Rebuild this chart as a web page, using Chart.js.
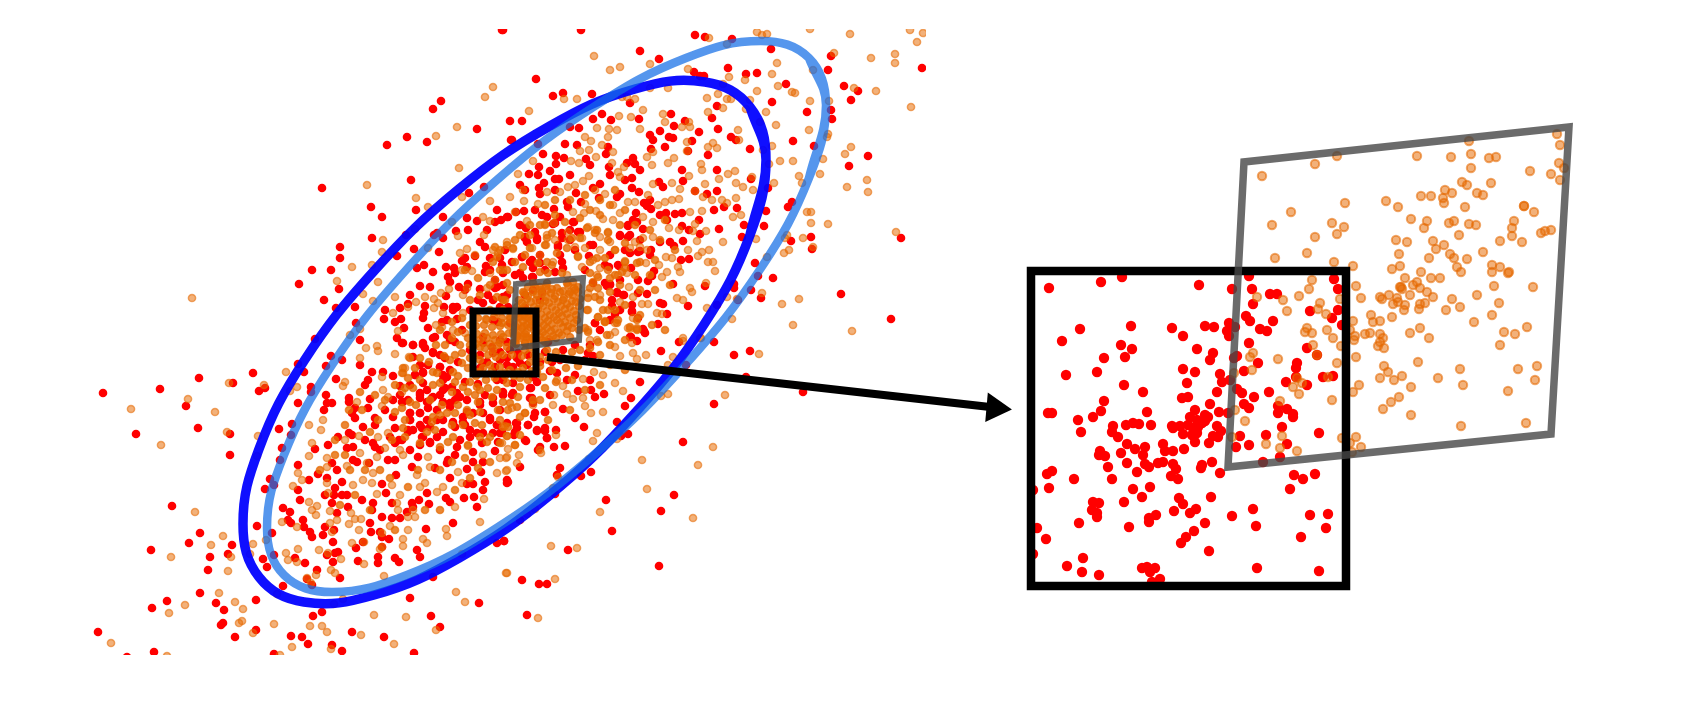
<!DOCTYPE html>
<html>
<head>
<meta charset="utf-8">
<title>Scatter with zoomed views</title>
<script src="https://cdn.jsdelivr.net/npm/chart.js@4/dist/chart.umd.min.js"></script>
<style>
    html, body { margin: 0; padding: 0; background: #fff; overflow: hidden; }
    canvas { display: block; }
</style>
</head>
<body>
<canvas id="scatter" width="1702" height="704"></canvas>
<script>
// values, outer part of the cloud
const redMain = [
[502,30],[441,101],[433,109],[407,137],[387,145],[427,142],[477,129],[510,121],[511,140],[411,180],[322,188],[371,207],[382,217],[416,210],[484,187],[469,193],[443,217],[467,218],[477,221],[497,210],[495,222],[508,217],[487,230],[468,230],[456,231],[372,238],[406,235],[434,235],[437,233],[443,238],[340,247],[414,249],[439,252],[340,258],[480,242],[485,247],[397,256],[312,270],[331,270],[417,268],[424,265],[433,272],[465,258],[462,261],[475,256],[446,267],[454,268],[455,273],[448,277],[467,267],[486,266],[485,272],[490,258],[299,284],[339,289],[420,286],[430,287],[459,287],[468,284],[480,289],[450,282],[324,300],[355,307],[336,308],[410,295],[446,296],[453,307],[457,307],[444,307],[425,306],[408,304],[400,308],[385,310],[424,313],[423,318],[384,319],[395,322],[401,319],[447,320],[457,319],[356,323],[404,328],[428,328],[435,337],[447,335],[453,310],[397,338],[315,339],[360,340],[503,273],[497,287],[503,297],[483,303],[510,310],
[503,30],[581,30],[695,35],[705,37],[732,39],[640,51],[771,49],[831,56],[659,59],[536,79],[828,70],[922,68],[694,72],[700,76],[704,76],[728,68],[746,74],[757,73],[786,84],[553,96],[563,93],[592,94],[844,86],[858,91],[772,102],[851,100],[630,103],[717,106],[807,112],[831,110],[522,121],[602,114],[593,119],[611,120],[639,119],[671,114],[685,121],[712,118],[832,119],[579,128],[674,126],[570,127],[718,129],[699,132],[660,131],[650,135],[653,140],[512,140],[538,144],[669,137],[673,138],[692,141],[731,137],[736,140],[793,141],[565,144],[577,145],[608,147],[651,149],[665,147],[750,149],[814,146],[543,154],[688,151],[556,156],[564,158],[586,159],[606,154],[708,155],[633,158],[868,156],[556,164],[539,167],[635,164],[609,167],[627,163],[849,166],[550,171],[529,174],[538,175],[682,170],[717,170],[632,178],[555,179],[559,179],[544,183],[520,185],[659,182],[663,187],[600,184],[683,181],[751,179],[539,188],[632,188],[639,192],[593,188],[717,191],[768,188],[695,191],[525,190],[576,193],[707,194],[620,194],[599,198],[617,197],[788,207],[792,202],[581,202],[567,202],[540,194],[568,207],[644,203],[647,206],[651,209],[714,210],[724,207],[737,208],[766,211],[554,209],[524,211],[516,212],[666,213],[636,213],[675,214],[682,213],[542,215],[547,217],[560,217],[574,222],[633,220],[667,220],[699,220],[507,217],[501,220],[628,226],[682,226],[643,229],[764,226],[744,225],[719,229],[689,230],[526,228],[553,224],[700,234],[742,237],[811,237],[791,241],[901,238],[580,232],[562,238],[525,238],[537,238],[593,245],[620,236],[628,237],[670,242],[674,246],[683,241],[660,242],[651,250],[812,249],[640,251],[558,247],[522,257],[589,256],[681,260],[689,259],[755,263],[540,263],[532,260],[619,266],[609,267],[631,268],[654,271],[520,273],[652,276],[533,277],[773,278],[758,276],[638,280],[648,281],[673,284],[734,284],[705,286],[610,284],[607,286],[734,288],[617,292],[624,295],[638,293],[647,294],[841,294],[751,290],[761,298],[738,300],[660,303],[663,304],[688,306],[612,306],[717,305],[615,314],[632,311],[667,314],[891,319],[595,323],[658,324],[643,329],[645,333],
[661,351],[644,331],[637,341],[631,337],[679,342],[714,342],[734,355],[750,351],[588,353],[593,356],[686,365],[557,373],[550,371],[567,380],[590,380],[640,382],[578,391],[591,390],[604,394],[595,397],[631,398],[625,406],[803,392],[746,377],[714,404],[531,388],[537,382],[513,393],[530,398],[533,403],[545,412],[563,409],[534,417],[617,422],[575,418],[516,423],[517,428],[528,425],[584,427],[537,431],[545,431],[556,430],[514,435],[547,438],[526,441],[621,436],[628,434],[554,447],[565,446],[538,450],[683,442],[520,467],[560,468],[591,472],[581,476],[507,480],[507,483],[557,475],[555,494],[674,495],[606,500],[661,511],[612,531],[520,520],[504,541],[568,550],[659,566],[522,580],[539,584],[547,584],[527,615],[500,433],[502,432],
[103,393],[160,389],[199,378],[253,373],[233,383],[186,406],[259,391],[265,388],[298,364],[326,366],[304,372],[331,356],[342,360],[360,365],[336,379],[311,387],[311,392],[298,403],[326,395],[332,403],[327,403],[324,410],[355,418],[349,398],[349,402],[355,408],[352,413],[370,399],[368,408],[375,418],[363,427],[368,380],[365,385],[372,372],[383,372],[393,376],[400,386],[393,400],[402,402],[408,400],[393,417],[410,413],[410,420],[415,375],[413,345],[423,345],[402,343],[433,352],[423,373],[440,367],[445,358],[447,377],[455,342],[420,395],[427,402],[433,397],[443,390],[457,393],[420,413],[437,420],[450,403],[467,412],[480,405],[443,380],[493,398],[503,395],[503,380],[490,420],[463,422],[497,425],[477,433],[493,433],[507,423],[422,428],[413,430],[395,428],[390,437],[399,440],[395,443],[422,437],[430,443],[420,445],[408,430],[457,447],[473,452],[455,455],[448,460],[473,462],[483,462],[447,463],[467,469],[481,472],[495,451],[435,468],[418,457],[388,460],[412,467],[373,443],[375,447],[353,447],[347,448],[328,445],[315,449],[338,437],[352,435],[349,433],[353,460],[357,462],[369,463],[332,463],[337,470],[318,474],[327,478],[309,480],[298,465],[342,482],[396,475],[382,484],[450,478],[467,484],[473,484],[508,482],[485,482],[483,490],[474,497],[464,498],[446,498],[450,502],[427,493],[429,504],[419,500],[412,503],[413,507],[407,512],[392,503],[386,493],[373,503],[372,510],[382,517],[392,518],[400,518],[362,500],[348,507],[342,495],[335,488],[334,495],[347,495],[332,503],[325,495],[477,507],[370,523],[371,532],[380,532],[382,537],[389,539],[426,529],[453,523],[337,513],[300,500],[283,508],[290,512],[288,520],[291,523],[303,520],[304,527],[310,532],[312,537],[325,527],[334,530],[323,535],[333,542],[298,490],[265,489],[270,479],[274,485],[280,460],[282,448],[279,429],[292,424],[291,435],[230,434],[198,428],[136,434],[230,455],[172,506],[200,533],[189,543],[151,550],[257,526],[272,533],[232,545],[210,557],[228,554],[263,559],[274,555],[267,567],[208,570],[295,558],[305,563],[317,570],[327,555],[338,552],[335,553],[333,562],[358,561],[356,548],[363,542],[378,557],[378,563],[395,558],[399,562],[420,557],[417,550],[382,547],[340,578],[307,579],[312,585],[283,586],[433,577],[497,543],[504,541],[200,593],[167,601],[152,608],[216,603],[224,610],[256,600],[410,598],[479,603],[322,612],[313,616],[431,616],[440,627],[223,623],[221,625],[98,632],[256,630],[235,637],[291,636],[302,637],[352,632],[384,637],[308,644],[332,645],[342,651],[154,652],[274,654],[414,653],[127,657]
];

const orangeMain = [
[493,87],[485,97],[457,127],[436,136],[459,168],[367,185],[416,198],[428,207],[462,197],[490,201],[483,217],[490,221],[452,222],[415,229],[458,236],[484,235],[383,240],[382,252],[467,249],[460,253],[475,255],[428,248],[352,267],[372,265],[337,281],[378,282],[472,271],[462,270],[493,250],[498,253],[507,242],[192,298],[363,294],[395,297],[373,301],[425,297],[434,299],[441,293],[449,289],[467,288],[416,302],[438,303],[434,308],[443,313],[393,313],[408,307],[436,325],[442,327],[398,331],[360,329],[350,335],[495,280],[487,288],[463,295],[490,273],[503,270],[463,313],[453,330],[465,333],[487,320],
[757,32],[762,35],[767,34],[810,29],[850,34],[910,30],[923,33],[917,42],[709,38],[727,44],[834,53],[895,54],[895,63],[871,58],[594,56],[620,67],[610,70],[650,64],[688,69],[777,63],[772,74],[813,70],[729,77],[745,80],[723,84],[778,86],[757,91],[792,92],[795,93],[854,88],[876,91],[668,88],[650,88],[564,99],[577,99],[622,97],[627,97],[635,99],[707,98],[727,99],[731,99],[718,94],[750,100],[810,101],[829,101],[911,107],[529,111],[643,110],[723,108],[708,112],[746,109],[766,112],[663,114],[619,116],[631,117],[665,122],[760,122],[776,125],[682,127],[690,127],[689,122],[597,128],[609,129],[617,130],[640,129],[738,130],[809,130],[608,137],[585,137],[828,134],[827,137],[591,141],[687,142],[739,140],[713,143],[708,147],[717,148],[772,146],[851,147],[602,145],[589,150],[580,151],[613,152],[653,152],[687,151],[845,154],[763,150],[571,161],[596,157],[579,163],[533,161],[647,157],[674,158],[668,163],[612,163],[624,167],[652,165],[701,164],[702,170],[780,161],[793,161],[823,159],[769,164],[618,172],[518,174],[589,176],[620,177],[735,171],[728,174],[752,177],[719,179],[689,176],[799,176],[820,174],[847,187],[867,180],[868,192],[583,181],[568,187],[575,185],[653,184],[672,183],[705,184],[736,183],[774,183],[802,183],[523,190],[547,192],[560,192],[605,194],[595,190],[680,189],[743,187],[753,190],[510,197],[648,195],[695,191],[712,200],[703,197],[722,200],[736,198],[524,201],[538,204],[613,205],[585,204],[672,200],[679,199],[665,202],[658,205],[635,202],[628,202],[727,203],[620,213],[596,211],[584,213],[573,212],[515,212],[702,211],[690,212],[807,212],[811,212],[741,215],[733,217],[643,217],[603,219],[613,220],[527,221],[545,224],[554,223],[653,222],[695,224],[811,223],[828,224],[669,228],[679,230],[693,231],[706,231],[896,232],[787,235],[785,238],[803,238],[756,239],[723,242],[697,241],[595,230],[568,232],[588,227],[600,237],[608,233],[547,235],[555,240],[568,240],[582,238],[585,248],[643,238],[635,242],[653,237],[630,248],[640,247],[513,249],[532,248],[546,245],[575,247],[600,250],[610,242],[615,250],[647,250],[688,250],[709,250],[702,252],[698,256],[813,247],[789,250],[784,253],[767,257],[666,257],[672,258],[578,256],[540,255],[553,262],[593,260],[708,262],[713,262],[625,261],[646,263],[659,265],[678,267],[680,272],[715,271],[582,267],[600,268],[618,275],[627,273],[597,275],[567,275],[662,277],[667,272],[706,283],[690,288],[692,292],[727,297],[737,299],[762,293],[782,304],[799,299],[677,298],[683,300],[707,308],[633,297],[629,287],[620,302],[642,304],[648,304],[600,295],[588,293],[588,310],[598,317],[605,322],[615,323],[657,313],[662,314],[633,318],[637,328],[628,328],[732,319],[793,325],[852,331],[683,338],[701,338],[588,330],[615,332],
[683,341],[700,338],[630,329],[637,329],[605,321],[610,335],[632,343],[597,340],[590,340],[615,347],[633,353],[637,359],[620,356],[646,355],[759,354],[673,357],[668,365],[594,372],[603,375],[615,383],[623,391],[583,379],[557,380],[563,386],[567,394],[573,399],[583,398],[585,406],[554,395],[553,405],[591,413],[603,412],[668,394],[661,396],[725,395],[533,405],[525,413],[512,408],[505,426],[507,436],[502,443],[515,445],[508,449],[519,455],[506,458],[517,463],[506,471],[556,435],[540,450],[541,453],[597,433],[593,441],[617,439],[642,460],[589,459],[713,447],[698,465],[558,477],[553,488],[647,489],[535,509],[527,514],[600,512],[693,518],[551,546],[577,548],[506,573],[555,579],[538,618],
[131,409],[188,399],[229,383],[215,412],[286,372],[264,385],[227,432],[258,436],[161,445],[257,456],[290,391],[297,387],[345,382],[343,386],[360,358],[366,348],[377,346],[378,351],[395,354],[409,357],[405,368],[402,373],[382,377],[383,390],[402,392],[388,397],[357,402],[382,406],[323,420],[309,425],[321,430],[359,436],[345,440],[312,443],[309,456],[327,458],[327,467],[347,466],[360,453],[367,463],[377,457],[385,448],[388,433],[378,437],[400,450],[403,455],[428,457],[417,475],[373,473],[363,480],[372,483],[392,485],[400,495],[425,483],[420,487],[437,492],[443,487],[462,483],[458,472],[497,473],[483,455],[468,446],[500,458],[507,457],[507,470],[484,499],[455,507],[430,467],[413,510],[415,517],[398,510],[408,517],[397,503],[377,494],[353,485],[293,486],[298,473],[302,480],[327,483],[328,493],[309,502],[317,506],[312,510],[316,515],[330,511],[282,522],[297,527],[337,520],[330,523],[349,524],[355,519],[361,519],[351,513],[332,532],[359,530],[390,526],[382,533],[408,530],[480,522],[446,529],[447,536],[403,539],[403,546],[423,539],[427,543],[352,543],[364,542],[382,547],[380,549],[195,512],[223,536],[211,545],[171,557],[231,557],[228,571],[253,544],[250,554],[266,540],[286,553],[298,549],[319,550],[288,560],[297,562],[341,559],[328,553],[364,564],[331,570],[335,573],[316,575],[307,578],[311,583],[384,576],[462,554],[507,573],[456,592],[465,602],[219,593],[235,602],[243,609],[185,605],[169,613],[277,594],[334,604],[343,599],[374,615],[406,617],[242,621],[239,623],[274,624],[310,626],[322,626],[327,632],[253,633],[361,635],[436,630],[111,643],[292,647],[394,644],[331,649],[167,656],[280,655]
];

// the crowded middle of the cloud
const redCore = [
[403,343],[413,345],[423,343],[425,348],[433,338],[433,353],[413,357],[420,365],[423,372],[415,375],[440,367],[443,375],[450,370],[423,383],[420,393],[427,390],[432,398],[440,395],[445,388],[452,387],[403,402],[420,398],[428,402],[443,402],[455,400],[460,397],[467,400],[420,413],[428,408],[437,410],[450,407],[410,413],[410,420],[420,425],[427,420],[430,427],[443,420],[453,422],[463,417],[473,413],[483,413],[490,418],[455,427],[465,425],[483,433],[497,425],[502,433],[517,423],[515,432],[528,425],[535,413],[545,412],[537,430],[545,428],[547,438],[525,440],[498,442],[482,443],[470,437],[437,437],[423,437],[408,432],[402,440],[430,442],[443,432],[460,440],[540,447],[493,403],[480,402],[503,392],[513,383],[530,388],[532,398],[533,377],
[493,353],[500,360],[507,358],[517,358],[520,363],[487,362],[495,367],[507,365],[513,367],[527,365],[500,352],[483,343],[480,355],[492,347],[500,340],[510,350],[518,353],[528,355],[483,337],[507,342],[483,363],[480,368],
[522,257],[535,232],[525,237],[527,242],[537,240],[558,245],[562,233],[570,230],[578,232],[555,223],[573,222],[570,240],[500,258],[512,262],[502,265],[530,262],[540,255],[533,268],[532,277],[523,278],[562,262],[563,268],[555,272],[495,280],[503,285],[495,288],[507,295],[493,300],[502,298],[508,307],[500,307],[493,320],[498,322],[510,323],[525,295],[533,290],[540,300],[525,308],[542,292],[620,235],[630,235],[628,225],[637,222],[638,252],[630,253],[618,265],[605,283],[610,285],[617,293],[623,295],[612,300],[620,310],[632,305],[632,312],[595,323],[593,283],[638,318],[630,337],
[450,340],[462,330],[442,322],[470,310],[455,308],[465,290],[478,300],[488,295],[470,350],[458,362],[478,384],[497,380],[512,395],[485,395],[465,382],[440,355],[428,365],[410,385],[400,395],[385,410],[375,425],[365,440],[380,450],[395,460],[410,450],[440,450],[470,430],[500,410],[550,395],[560,360],[575,375],[590,345],[600,330],[610,320],[620,280],[605,265],[590,245],[575,250],[560,255],[545,270],[515,275],[505,250],[490,270],[520,225],[535,210],[555,190],[570,175],[590,165],[610,175],[625,180],[640,170],[650,200],[660,215],[625,250],[640,240],[650,255],[610,255],[585,270],[575,345],[563,350],[585,360],[545,352],[552,362],[540,362],[548,342]
];

const orangeCore = [
[403,373],[403,368],[410,358],[420,358],[429,362],[433,372],[437,373],[450,360],[455,355],[462,353],[470,358],[453,372],[462,363],[455,382],[433,385],[440,383],[405,388],[413,388],[410,402],[402,408],[470,382],[477,387],[480,390],[463,387],[475,395],[488,388],[497,390],[507,383],[520,387],[503,402],[510,403],[533,400],[525,413],[520,417],[517,407],[498,410],[458,405],[467,410],[480,412],[447,413],[440,415],[455,413],[463,425],[452,425],[433,417],[432,422],[403,428],[435,430],[427,432],[420,443],[440,447],[453,437],[448,442],[468,445],[475,423],[480,437],[490,437],[487,442],[503,427],[508,427],[507,436],[515,445],[500,443],
[487,338],[495,340],[503,337],[480,347],[485,348],[493,350],[507,347],[513,343],[525,343],[532,338],[527,337],[480,340],[500,343],[517,337],[530,348],[525,350],[488,355],[503,355],[480,360],[530,362],[500,367],[510,370],[490,365],[483,368],[523,368],[537,372],[543,377],[520,378],[542,340],[547,350],[540,357],
[495,247],[500,250],[507,245],[513,248],[497,257],[493,262],[507,270],[523,267],[538,263],[547,262],[552,265],[540,272],[548,273],[562,273],[557,253],[567,248],[578,257],[590,262],[597,258],[605,258],[608,270],[590,273],[598,277],[593,282],[598,288],[590,288],[595,297],[588,298],[600,300],[587,310],[598,317],[605,322],[585,328],[607,335],[603,310],[608,310],[615,310],[617,323],[630,327],[637,320],[637,330],[588,332],[503,300],[497,297],[510,290],[507,283],[523,292],[528,287],[533,283],[540,287],[547,283],[567,283],[573,282],[575,290],[570,292],[547,290],[510,317],[503,310],[497,312],[502,323],[513,332],[587,228],[595,233],[597,230],[580,238],[572,238],[547,238],[552,233],[545,225],[530,225],[520,235],[545,245],[530,248],[608,232],[608,240],[615,250],[625,243],[622,272],[615,275],[625,262],[637,263],[618,320],
[541,290],[552,289],[563,291],[574,288],[528,296],[537,295],[546,297],[555,296],[564,298],[573,295],[522,303],[531,302],[540,304],[549,303],[558,302],[567,304],[576,302],[520,310],[529,311],[538,309],[547,311],[556,310],[565,309],[574,311],[520,317],[528,318],[536,316],[545,318],[554,317],[562,316],[570,318],[518,324],[527,325],[535,323],[544,325],[552,324],[560,323],[568,326],[518,331],[526,332],[534,330],[543,332],[551,331],[559,333],[567,331],[520,338],[530,339],[540,337],[549,339],[556,338],[577,320],[579,330],
[535,287],[546,286],[557,288],[568,285],[578,287],[524,293],[533,292],[542,294],[551,293],[560,292],[569,294],[578,292],[519,300],[527,299],[536,300],[545,301],[554,299],[563,300],[572,301],[580,299],[517,307],[525,306],[534,307],[543,306],[552,307],[561,306],[570,307],[579,306],[516,314],[524,315],[533,313],[541,314],[550,315],[559,313],[567,314],[576,315],[514,321],[523,321],[531,320],[540,322],[548,321],[557,320],[565,322],[574,323],[514,328],[522,328],[530,327],[539,329],[547,328],[555,329],[563,327],[572,328],[514,335],[523,336],[535,335],[545,335],[553,336],[562,335],[570,337],[515,342],[525,343],[535,341],[545,342],
[478,318],[486,319],[494,317],[502,318],[510,319],[518,317],[526,318],[534,319],[476,326],[484,325],[492,327],[500,326],[508,325],[516,327],[524,326],[532,325],[477,334],[485,333],[493,335],[501,334],[509,333],[517,335],[525,334],[476,344],[490,344],[498,345],[516,344],[534,343],[474,356],[496,357],[512,355],[522,356],[534,355],[478,372],[492,371],[505,373],[518,372],[532,371],
[445,345],[452,338],[460,345],[468,338],[458,332],[470,325],[462,318],[452,322],[440,330],[436,345],[444,356],[470,345],[468,368],[458,376],[476,376],[486,380],[495,378],[505,376],[514,376],[528,380],[540,366],[548,360],[556,352],[563,358],[572,352],[580,350],[590,348],[598,342],[552,370],[566,368],[578,366],[545,388],[556,382],[572,380],[540,400],[518,397],[508,410],[492,397],[478,402],[468,392],[452,392],[442,405],[430,400],[416,405],[420,380],[408,378],[415,368],[395,385],[385,400],[395,412],[405,420],[392,440],[405,437],[378,420],[370,432],[362,410],[375,395],[360,392],[349,410],[345,425],[335,440],[335,455],[350,470],[365,470],[380,470],[390,478],[408,487],[418,470],[440,470],[452,462],[465,458],[478,468],[490,462],[470,478],[455,490],[440,510],[425,510],[395,530],[370,510],[355,495],[340,505],[320,470],[345,455],
[505,300],[490,310],[480,295],[470,300],[490,285],[478,278],[465,270],[500,270],[515,262],[525,255],[515,240],[530,235],[540,225],[555,215],[565,222],[580,218],[590,210],[600,215],[610,205],[625,210],[615,190],[600,200],[585,195],[570,200],[555,200],[545,205],[620,225],[635,225],[650,230],[665,220],[660,240],[675,250],[655,260],[640,262],[625,268],[650,275],[635,275],[610,278],[620,285],[640,290],[655,290],[670,285],[610,292],[625,305],[640,315],[652,325],[665,330],[625,340],[610,345],[600,355],[610,365],[625,370],[600,385],[585,390],[570,410],[548,420],[520,435],[500,420],[482,425],[470,415]
];

// the zoomed views on the right
const redInset = [
[1049,288],[1101,282],[1122,277],[1199,285],[1232,289],[1249,276],[1252,289],[1270,294],[1277,294],[1253,304],[1334,279],[1338,289],[1310,311],[1338,310],[1332,318],[1342,325],[1080,329],[1131,326],[1172,328],[1183,336],[1205,326],[1214,327],[1229,323],[1227,331],[1229,336],[1235,327],[1246,316],[1250,321],[1273,321],[1260,329],[1267,331],[1062,341],[1121,345],[1132,349],[1104,358],[1125,357],[1197,349],[1213,353],[1210,360],[1249,343],[1237,356],[1234,358],[1307,348],[1317,355],[1258,363],[1297,363],[1296,368],[1066,375],[1097,372],[1183,369],[1195,372],[1244,371],[1220,374],[1222,382],[1230,380],[1124,385],[1187,383],[1143,392],[1217,392],[1237,389],[1242,393],[1254,397],[1269,392],[1286,382],[1296,377],[1307,385],[1323,377],[1333,376],[1104,401],[1182,398],[1188,397],[1210,404],[1244,404],[1249,408],[1278,406],[1278,413],[1287,409],[1293,414],[1293,417],[1048,413],[1052,413],[1101,411],[1093,417],[1078,420],[1147,412],[1195,410],[1219,412],[1228,413],[1205,415],[1190,417],[1282,427],[1197,420],[1188,425],[1202,423],[1193,428],[1208,417],[1205,421],[1198,427],[1183,434],[1192,435],[1197,433],[1217,426],[1221,431],[1218,437],[1213,436],[1081,432],[1113,426],[1112,432],[1118,437],[1126,425],[1133,423],[1139,424],[1151,425],[1172,426],[1173,428],[1180,426],[1195,442],[1209,443],[1240,436],[1266,435],[1319,433],[1127,444],[1135,449],[1145,447],[1163,444],[1165,451],[1173,451],[1184,449],[1236,447],[1249,445],[1287,444],[1100,451],[1099,455],[1105,456],[1121,453],[1143,455],[1145,464],[1149,467],[1158,463],[1163,462],[1127,463],[1173,464],[1176,469],[1212,462],[1202,465],[1201,468],[1280,457],[1263,462],[1108,467],[1137,472],[1220,473],[1047,474],[1052,471],[1074,479],[1112,479],[1171,476],[1178,479],[1294,475],[1303,479],[1315,474],[1049,488],[1033,490],[1133,489],[1150,487],[1290,489],[1142,497],[1124,502],[1179,498],[1183,504],[1211,497],[1093,502],[1099,503],[1092,510],[1097,513],[1097,517],[1174,511],[1196,509],[1190,513],[1253,509],[1232,516],[1310,515],[1328,514],[1079,523],[1129,527],[1149,518],[1149,522],[1156,515],[1205,523],[1256,526],[1326,528],[1037,528],[1046,539],[1194,531],[1186,537],[1181,543],[1301,537],[1209,551],[1033,554],[1083,558],[1067,566],[1082,572],[1099,575],[1142,568],[1147,567],[1155,568],[1150,572],[1257,568],[1319,571],[1152,582],[1160,579]
];

const orangeInset = [
[1262,176],[1315,164],[1337,156],[1417,156],[1451,157],[1469,141],[1471,154],[1471,168],[1489,158],[1496,157],[1557,134],[1560,145],[1559,163],[1564,168],[1560,180],[1530,171],[1551,174],[1462,182],[1467,185],[1491,183],[1445,190],[1452,193],[1477,193],[1483,195],[1421,196],[1431,196],[1443,198],[1444,203],[1386,201],[1398,207],[1345,203],[1465,207],[1524,206],[1524,206],[1534,212],[1291,212],[1272,225],[1332,223],[1344,227],[1337,234],[1315,237],[1411,219],[1427,221],[1424,228],[1449,223],[1454,221],[1469,224],[1476,225],[1514,221],[1512,228],[1512,236],[1459,235],[1541,233],[1545,231],[1551,230],[1396,240],[1407,242],[1433,241],[1444,245],[1436,249],[1500,241],[1522,242],[1483,252],[1307,253],[1275,258],[1399,254],[1450,254],[1454,258],[1429,258],[1467,259],[1334,262],[1353,266],[1400,266],[1392,269],[1421,272],[1457,267],[1461,272],[1492,265],[1492,272],[1500,267],[1508,273],[1509,272],[1312,280],[1309,289],[1299,296],[1356,286],[1405,278],[1431,278],[1440,278],[1417,282],[1413,285],[1400,287],[1401,287],[1402,289],[1420,288],[1494,286],[1533,287],[1427,292],[1433,297],[1410,295],[1477,295],[1452,299],[1389,295],[1380,297],[1382,299],[1361,298],[1340,299],[1397,298],[1398,302],[1393,304],[1405,305],[1404,310],[1425,303],[1420,304],[1419,309],[1446,310],[1460,307],[1499,303],[1257,297],[1283,300],[1287,311],[1320,303],[1318,309],[1326,314],[1371,315],[1373,322],[1380,321],[1392,317],[1353,321],[1492,315],[1474,322],[1527,327],[1420,328],[1504,332],[1515,334],[1410,333],[1429,338],[1327,330],[1307,328],[1305,332],[1312,333],[1350,330],[1355,336],[1354,340],[1365,334],[1370,333],[1380,334],[1383,338],[1380,342],[1378,346],[1384,348],[1333,338],[1313,345],[1341,346],[1500,345],[1317,355],[1356,357],[1253,353],[1250,357],[1278,359],[1337,363],[1384,366],[1418,362],[1460,369],[1518,369],[1537,366],[1388,372],[1402,376],[1380,378],[1394,380],[1438,378],[1535,380],[1252,370],[1234,373],[1328,377],[1297,378],[1302,383],[1293,387],[1299,394],[1463,385],[1359,385],[1353,392],[1411,387],[1508,391],[1399,397],[1332,400],[1280,401],[1391,402],[1383,409],[1411,415],[1235,410],[1245,421],[1461,426],[1526,423],[1232,437],[1282,436],[1266,444],[1280,448],[1297,451],[1342,438],[1356,437],[1350,443],[1361,447],[1352,452]
];

const darkEllipse = [
[750,235],[766,160],[750,107],[705,82],[635,89],[550,126],[459,189],[374,271],[304,361],[259,449],[243,524],[259,577],[304,602],[374,595],[459,558],[550,495],[635,413],[705,323],[750,235],[766,160],[750,107]
];

const lightEllipse = [
[809,178],[826,105],[809,58],[761,41],[686,58],[595,106],[498,179],[407,269],[332,365],[284,455],[267,528],[284,575],[332,592],[407,575],[498,527],[595,454],[686,364],[761,268],[809,178],[826,105],[809,58]
];

const bigBlackBox = [[1031,271],[1346,271],[1346,586],[1031,586],[1031,271],[1346,271]];
const bigGrayBox = [[1244,162],[1569,127],[1551,434],[1228,467],[1244,162],[1569,127]];
const smallBlackBox = [[473,311],[536,311],[536,374],[473,374],[473,311],[536,311]];
const smallGrayBox = [[516,284],[583,278],[579,340],[513,348],[516,284],[583,278]];
const arrowLine = [[547,357],[990,407]];
const arrowHead = [[995,408]];

const RED = 'rgb(255,0,0)';
const ORANGE_FILL = 'rgba(230,105,0,0.52)';
const ORANGE_EDGE = 'rgba(230,105,0,0.58)';
const CORE_FILL = 'rgba(230,105,0,0.8)';
const CORE_EDGE = 'rgba(230,105,0,0.7)';

// dots of the big cloud stop at the edges of its panel
const PANEL_CLIP = { left: -88, top: -29, right: -776, bottom: -49 };

function dots(data, color, radius, clip) {
    return { data, showLine: false, pointRadius: radius, pointBorderWidth: 0, pointBackgroundColor: color, clip };
}

function ringDots(data, radius, edge, clip, fill, stroke) {
    return { data, showLine: false, pointRadius: radius, pointBorderWidth: edge, pointBackgroundColor: fill || ORANGE_FILL, pointBorderColor: stroke || ORANGE_EDGE, clip };
}

function path(data, color, width, tension) {
    return { data, showLine: true, pointRadius: 0, borderColor: color, borderWidth: width, tension: tension || 0, borderJoinStyle: 'miter', borderCapStyle: 'butt', fill: false };
}

// the library paints the first dataset last, so the top layer comes first
new Chart(document.getElementById('scatter'), {
    type: 'scatter',
    data: {
        datasets: [
            path(arrowLine, '#000', 8),
            { data: arrowHead, showLine: false, pointStyle: 'triangle', pointRadius: 17, pointRotation: 95, pointBackgroundColor: '#000', pointBorderWidth: 0 },
            path(smallGrayBox, 'rgba(70,70,70,0.8)', 6),
            path(smallBlackBox, '#000', 7),
            path(bigGrayBox, 'rgba(70,70,70,0.8)', 7.5),
            path(bigBlackBox, '#000', 8.5),
            ringDots(orangeInset, 4.2, 2),
            dots(redInset, RED, 5.2),
            path(lightEllipse, 'rgba(20,110,230,0.72)', 8.5, 0.4),
            path(darkEllipse, 'rgba(0,0,255,0.94)', 9.5, 0.4),
            ringDots(orangeCore, 3.6, 1.5, PANEL_CLIP, CORE_FILL, CORE_EDGE),
            ringDots(orangeMain, 3.6, 1.5, PANEL_CLIP),
            dots(redCore, RED, 4.3, PANEL_CLIP),
            dots(redMain, RED, 4.3, PANEL_CLIP)
        ]
    },
    options: {
        responsive: false,
        animation: false,
        events: [],
        layout: { autoPadding: false, padding: 0 },
        plugins: {
            legend: { display: false },
            tooltip: { enabled: false }
        },
        scales: {
            x: { type: 'linear', min: 0, max: 1702, display: false },
            y: { type: 'linear', min: 0, max: 704, reverse: true, display: false }
        }
    }
});
</script>
</body>
</html>
